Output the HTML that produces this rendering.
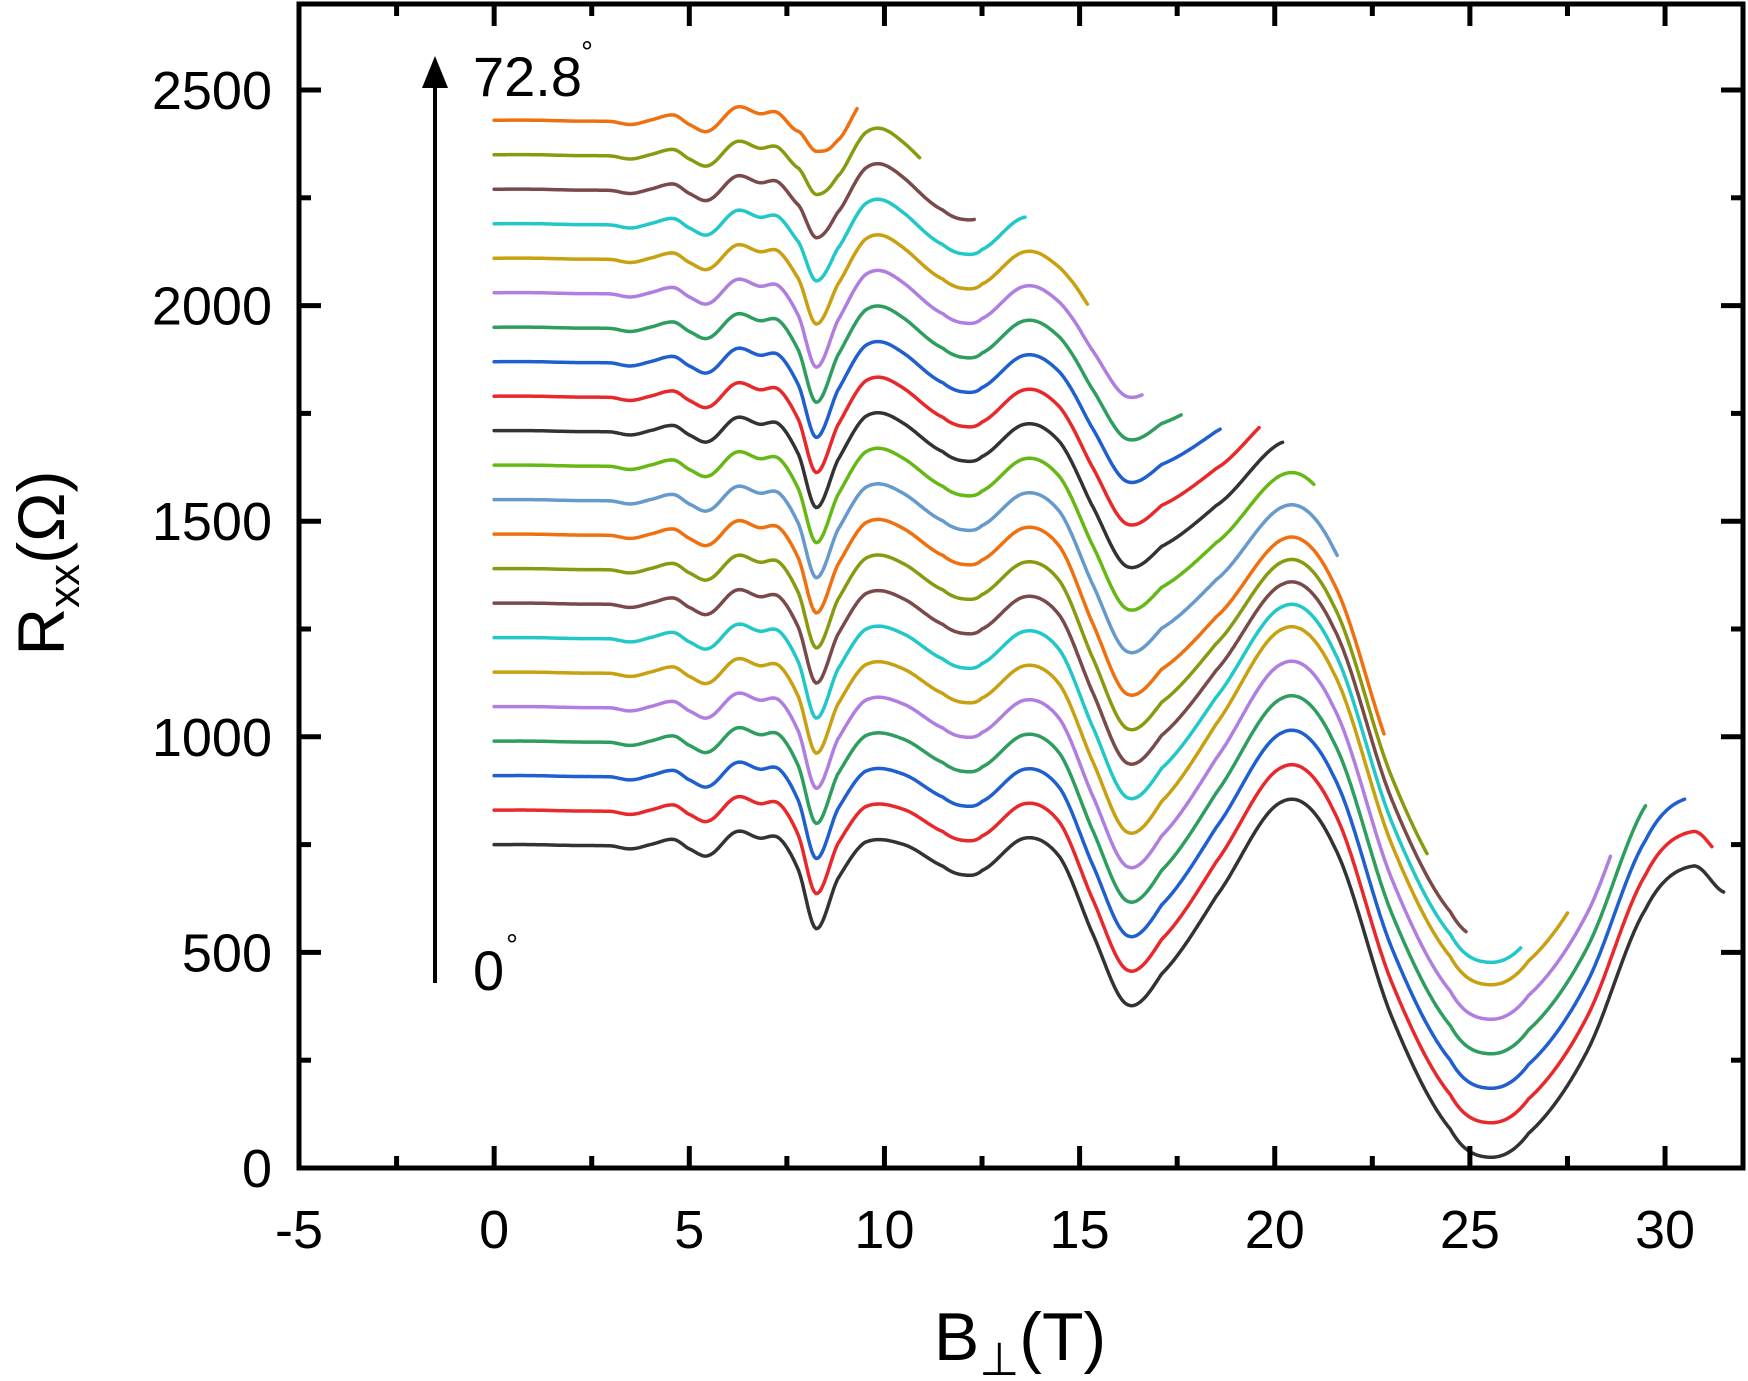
<!DOCTYPE html>
<html><head><meta charset="utf-8"><style>
html,body{margin:0;padding:0;background:#fff;}
svg{display:block;}
text{font-family:"Liberation Sans",Arial,sans-serif;fill:#000;}
</style></head><body>
<svg id="s" width="1748" height="1381" viewBox="0 0 1748 1381" xmlns="http://www.w3.org/2000/svg">
<g id="curves" fill="none" stroke-width="3.5" stroke-linejoin="round" stroke-linecap="round"></g>
<rect x="299" y="4" width="1444" height="1164" fill="none" stroke="#000" stroke-width="5"/>
<g id="ticks" stroke="#000" stroke-width="5"></g>
<g id="labels" font-size="54"></g>
<line x1="435" y1="983" x2="435" y2="80" stroke="#000" stroke-width="4"/>
<polygon points="435,56 422,88 448,88" fill="#000"/>
<text x="473" y="96" font-size="56">72.8</text><text x="581" y="62" font-size="30">°</text>
<text x="473" y="990" font-size="56">0</text><text x="506" y="955" font-size="30">°</text>
<text transform="translate(64,563) rotate(-90)" text-anchor="middle" font-size="66">R<tspan font-size="44" dy="15">xx</tspan><tspan dy="-15">(Ω)</tspan></text>
<text x="1020" y="1360" text-anchor="middle" font-size="68">B<tspan font-size="46" dy="15">⊥</tspan><tspan dy="-15">(T)</tspan></text>
</svg>
<script>
var X=function(b){return 299+(b+5)*39.03;},Y=function(r){return 1168-r*0.4312;};
var NS="http://www.w3.org/2000/svg";
var T=document.getElementById("ticks"),L=document.getElementById("labels");
function ln(x1,y1,x2,y2){var e=document.createElementNS(NS,"line");e.setAttribute("x1",x1);e.setAttribute("y1",y1);e.setAttribute("x2",x2);e.setAttribute("y2",y2);T.appendChild(e);}
function tx(x,y,s,a){var e=document.createElementNS(NS,"text");e.setAttribute("x",x);e.setAttribute("y",y);e.setAttribute("text-anchor",a);e.textContent=s;L.appendChild(e);}
for(var b=-5;b<=32;b+=2.5){var x=X(b),maj=(b%5==0),len=maj?22:12;ln(x,1168,x,1168-len);ln(x,4,x,4+len);if(maj)tx(x,1248,String(b),"middle");}
for(var r=0;r<=2700;r+=250){var y=Y(r),maj=(r%500==0),len=maj?22:12;ln(299,y,299+len,y);ln(1743,y,1743-len,y);if(maj)tx(272,y+19,String(r),"end");}
var tp=[[0,0],[1,0],[2,-2],[3,-3],[3.5,-10],[4,0],[4.6,12],[5,-10],[5.5,-25],[6.2,30],[6.8,15],[7.3,15],[7.8,-60],[8.25,-195],[8.8,-80],[9.5,5],[10.5,0],[11.5,-50],[12,-70],[12.5,-60],[13.6,15],[14.5,-30],[15.3,-200],[16.2,-370],[17.1,-300],[18.5,-120],[20.2,100],[21.5,0],[23,-400],[24.5,-660],[25.5,-725],[26.5,-670],[28,-480],[29.5,-150],[30.7,-50],[31.5,-110]];
function sm(a,b,x){var t=Math.max(0,Math.min(1,(x-a)/(b-a)));return t*t*(3-2*t);}
function f(B,k){var i=0;while(i<tp.length-2&&tp[i+1][0]<B)i++;
var p0=tp[Math.max(i-1,0)],p1=tp[i],p2=tp[i+1],p3=tp[Math.min(i+2,tp.length-1)];
var t=(B-p1[0])/(p2[0]-p1[0]);t=Math.max(0,Math.min(1,t));
var t2=t*t,t3=t2*t;
var v=0.5*((2*p1[1])+(-p0[1]+p2[1])*t+(2*p0[1]-5*p1[1]+4*p2[1]-p3[1])*t2+(-p0[1]+3*p1[1]-3*p2[1]+p3[1])*t3);
var dd=k<=16?20*k/16:20+(k-16)*20;
v+=dd*Math.exp(-Math.pow((B-8.25)/0.4,2));
v+=k*2.5*Math.exp(-Math.pow((B-9.8)/0.9,2));
var s=k<=9?1:1-(k-9)*0.05;
var se=1-(1-s)*sm(13.8,15,B);
v*=se;
v-=Math.min(Math.max(0,k-5),4)*28*sm(16.3,20,B);
return v;}
var ends=[31.5,31.2,30.5,29.5,28.6,27.5,26.3,24.9,23.9,22.8,21.6,21.0,20.2,19.6,18.6,17.6,16.6,15.2,13.6,12.3,10.9,9.3];
var cols=["#333333","#e8282b","#1f5fd0","#2e9e5e","#b07ee0","#c8a010","#22c8c8","#7a4a4a","#8a9a10","#f07010","#6699cc","#66b814","#333333","#e8282b","#1f5fd0","#2e9e5e","#b07ee0","#c8a010","#22c8c8","#7a4a4a","#8a9a10","#f07010"];
var G=document.getElementById("curves");
for(var k=0;k<22;k++){var base=750+80*k,d="";
for(var B=0;B<=ends[k]+1e-6;B+=0.05){d+=(B==0?"M":"L")+X(B).toFixed(1)+","+Y(base+f(B,k)).toFixed(1);}
var p=document.createElementNS(NS,"path");p.setAttribute("d",d);p.setAttribute("stroke",cols[k]);G.appendChild(p);}
</script>
</body></html>
